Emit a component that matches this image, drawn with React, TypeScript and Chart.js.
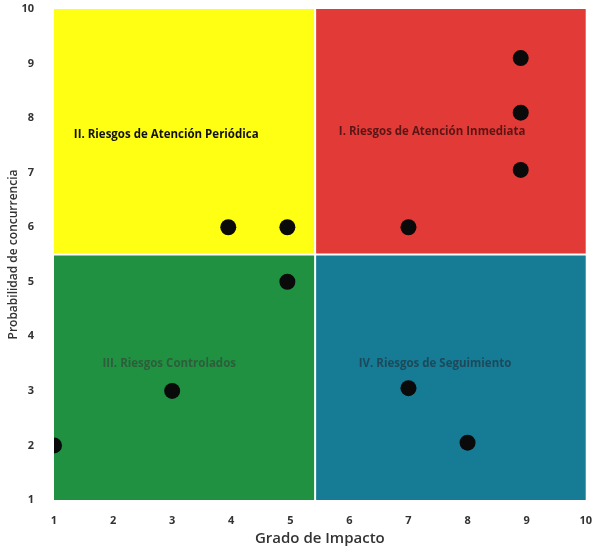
import React, { useEffect, useRef } from "react";
import { Chart, registerables } from "chart.js";

Chart.register(...registerables);

const impactValues = [1, 3, 3.95, 4.95, 4.95, 7, 7, 8, 8.9, 8.9, 8.9];
const probabilityValues = [2, 3, 6, 6, 5, 6, 3.05, 2.05, 9.1, 8.1, 7.05];

const axisMin = 1;
const axisMax = 10;
const splitX = 5.42;
const splitY = 5.5;

const quadrantNames = [
  "I. Riesgos de Atención Inmediata",
  "II. Riesgos de Atención Periódica",
  "III. Riesgos Controlados",
  "IV. Riesgos de Seguimiento",
];
const quadrantLabelX = [7.4, 2.9, 2.95, 7.45];
const quadrantLabelY = [7.75, 7.7, 3.5, 3.5];

const quadrantFill = ["#e23a36", "#ffff14", "#1f9141", "#167b95"];
const quadrantText = ["#5a1616", "#111111", "#2e5d3c", "#1d4a5a"];

const quadrantPlugin = {
  id: "quadrants",
  beforeDatasetsDraw(chart: any) {
    const { ctx, scales } = chart;
    const xs = scales.x;
    const ys = scales.y;
    const x0 = xs.getPixelForValue(axisMin);
    const x1 = xs.getPixelForValue(splitX);
    const x2 = xs.getPixelForValue(axisMax);
    const y0 = ys.getPixelForValue(axisMax);
    const y1 = ys.getPixelForValue(splitY);
    const y2 = ys.getPixelForValue(axisMin);
    const gap = 1;
    const rects = [
      [x1 + gap, y0, x2, y1 - gap],
      [x0, y0, x1 - gap, y1 - gap],
      [x0, y1 + gap, x1 - gap, y2],
      [x1 + gap, y1 + gap, x2, y2],
    ];
    ctx.save();
    rects.forEach((r, i) => {
      ctx.fillStyle = quadrantFill[i];
      ctx.fillRect(r[0], r[1], r[2] - r[0], r[3] - r[1]);
    });
    ctx.font = "bold 11.5px 'Open Sans', sans-serif";
    ctx.textAlign = "center";
    ctx.textBaseline = "middle";
    quadrantNames.forEach((name, i) => {
      ctx.fillStyle = quadrantText[i];
      ctx.fillText(
        name,
        xs.getPixelForValue(quadrantLabelX[i]),
        ys.getPixelForValue(quadrantLabelY[i])
      );
    });
    ctx.restore();
  },
};

export default function App() {
  const canvasRef = useRef<HTMLCanvasElement>(null);

  useEffect(() => {
    if (!canvasRef.current) return;
    const chart = new Chart(canvasRef.current, {
      type: "scatter",
      data: {
        datasets: [
          {
            data: impactValues.map((x, i) => ({ x, y: probabilityValues[i] })),
            backgroundColor: "#0a0a0a",
            borderColor: "#0a0a0a",
            pointRadius: 8,
            pointHoverRadius: 8,
            borderWidth: 0,
          },
        ],
      },
      options: {
        animation: false,
        responsive: false,
        maintainAspectRatio: false,
        layout: { padding: { left: 0, right: 0, top: 9, bottom: 0 } },
        plugins: {
          legend: { display: false },
          tooltip: { enabled: false },
        },
        scales: {
          x: {
            type: "linear",
            min: axisMin,
            max: axisMax,
            border: { display: false },
            grid: { display: false },
            ticks: {
              stepSize: 1,
              color: "#333",
              padding: 6,
              font: { family: "'Open Sans', sans-serif", size: 11, weight: "bold" },
            },
            title: {
              display: true,
              text: "Grado de Impacto",
              color: "#333",
              padding: { top: 1, bottom: 0 },
              font: { family: "'Open Sans', sans-serif", size: 15, weight: "600" },
            },
            afterFit(scale: any) {
              scale.height = 48;
            },
          },
          y: {
            type: "linear",
            min: axisMin,
            max: axisMax,
            border: { display: false },
            grid: { display: false },
            ticks: {
              stepSize: 1,
              color: "#333",
              padding: 12,
              font: { family: "'Open Sans', sans-serif", size: 11, weight: "bold" },
            },
            title: {
              display: true,
              text: "Probabilidad de concurrencia",
              color: "#333",
              padding: { top: 6, bottom: 0 },
              font: { family: "'Open Sans', sans-serif", size: 12, weight: "600" },
            },
            afterFit(scale: any) {
              scale.width = 54;
              scale.paddingTop = 0;
              scale.paddingBottom = 0;
            },
          },
        },
      },
      plugins: [quadrantPlugin],
    });
    return () => chart.destroy();
  }, []);

  return (
    <div
      style={{
        position: "fixed",
        left: 0,
        top: 0,
        width: 594,
        height: 548,
        overflow: "hidden",
        background: "#fff",
      }}
    >
      <canvas ref={canvasRef} width={598} height={548} style={{ width: 598, height: 548, display: "block" }} />
    </div>
  );
}
